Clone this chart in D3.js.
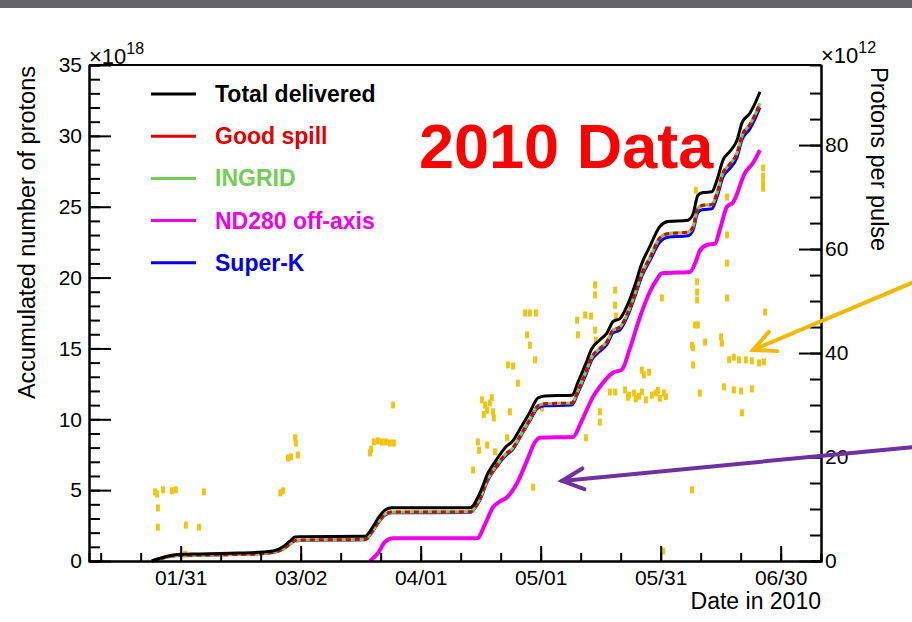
<!DOCTYPE html>
<html>
<head>
<meta charset="utf-8" />
<title>Accumulated protons 2010</title>
<style>
  body { margin: 0; background: #fff; }
  text { font-family: "Liberation Sans", Arial, Helvetica, sans-serif; }
</style>
</head>
<body>
<div id="container"></div>
<script src="https://cdn.jsdelivr.net/npm/d3@7"></script>
<script>
// day of year 2010 (1 = Jan 1) for the accumulated curves
const potDays = [23.8, 27.1, 30.8, 35.8, 43.3, 49.6, 54.1, 56.6, 58.3, 59.6, 60.8, 77.1, 78.8, 80.3, 82.1, 83.8,
  103.3, 105.8, 107.8, 109.6, 112.1, 114.1, 115.8, 118.3, 120.3, 122.1, 128.8, 130.3, 132.1, 133.8, 135.8,
  137.6, 139.1, 140.8, 142.6, 144.6, 146.3, 148.3, 150.8, 152.8, 157.8, 159.1, 160.3, 161.6, 163.8, 165.1,
  166.6, 168.3, 170.1, 171.3, 173.3, 174.6, 175.8]
// x10^18 protons
const totalDelivered = [0, 0.3, 0.47, 0.5, 0.55, 0.6, 0.7, 1.0, 1.4, 1.7, 1.72, 1.75, 2.3, 3.0, 3.6, 3.75,
  3.75, 4.8, 6.2, 7.0, 8.0, 8.5, 9.3, 10.5, 11.5, 11.65, 11.7, 12.6, 13.8, 15.0, 15.6,
  16.1, 16.9, 17.1, 18.0, 19.5, 21.0, 22.2, 23.6, 23.95, 24.05, 24.5, 25.8, 26.0, 26.05, 26.9,
  28.3, 28.9, 29.7, 30.9, 31.6, 32.3, 33.1]
const goodSpill = [0, 0.25, 0.4, 0.42, 0.45, 0.5, 0.6, 0.85, 1.2, 1.45, 1.48, 1.52, 2.05, 2.7, 3.3, 3.45,
  3.47, 4.4, 5.8, 6.6, 7.5, 8.0, 8.8, 10.0, 10.95, 11.1, 11.15, 12.0, 13.2, 14.4, 15.0,
  15.5, 16.3, 16.5, 17.4, 18.9, 20.3, 21.4, 22.8, 23.1, 23.2, 23.6, 24.9, 25.1, 25.15, 26.0,
  27.4, 28.0, 28.8, 30.0, 30.8, 31.5, 32.3]
const ingrid = [0, 0.25, 0.4, 0.42, 0.45, 0.5, 0.6, 0.85, 1.2, 1.45, 1.48, 1.52, 2.05, 2.7, 3.3, 3.45,
  3.47, 4.4, 5.8, 6.6, 7.5, 8.0, 8.8, 10.0, 10.95, 11.1, 11.15, 12.0, 13.2, 14.4, 15.0,
  15.5, 16.3, 16.5, 17.4, 18.9, 20.3, 21.4, 22.8, 23.1, 23.2, 23.6, 24.9, 25.1, 25.15, 26.0,
  27.4, 28.0, 28.8, 30.0, 30.8, 31.5, 32.3]
const superK = [0, 0.25, 0.4, 0.42, 0.45, 0.5, 0.6, 0.85, 1.2, 1.42, 1.45, 1.5, 2.0, 2.65, 3.25, 3.4,
  3.42, 4.3, 5.7, 6.5, 7.4, 7.9, 8.7, 9.9, 10.8, 10.95, 11.0, 11.85, 13.0, 14.2, 14.8,
  15.3, 16.1, 16.3, 17.2, 18.7, 20.1, 21.2, 22.5, 22.85, 22.95, 23.35, 24.6, 24.8, 24.85, 25.7,
  27.1, 27.7, 28.5, 29.7, 30.5, 31.2, 32.0]

const nd280Days = [78.3, 80.3, 82.1, 84.1, 105.1, 107.1, 109.1, 110.8, 112.6, 115.1, 117.6, 119.6, 120.8,
  129.1, 130.8, 132.1, 134.1, 135.8, 139.1, 141.3, 143.3, 145.8, 148.3, 150.1, 151.3, 158.3, 159.6,
  160.8, 162.6, 164.6, 165.8, 167.6, 169.1, 172.1, 174.1, 175.8]
const nd280 = [0, 0.55, 1.35, 1.6, 1.6, 2.6, 3.8, 4.2, 4.5, 5.5, 7.1, 8.4, 8.7,
  8.75, 9.6, 10.4, 11.6, 12.3, 13.3, 13.5, 15.0, 17.2, 19.0, 19.9, 20.3, 20.4, 21.0,
  21.9, 22.3, 22.4, 23.4, 25.0, 25.3, 27.4, 28.1, 29.0]

// protons per pulse (x10^12), right axis
const ppDays = [24.6, 25.1, 25.3, 25.3, 26.6, 28.8, 29.8, 32.3, 35.6, 36.8, 32.1,
  55.9, 56.6, 57.8, 58.6, 59.6, 59.8, 60.3,
  78.3, 78.6, 79.3, 80.3, 81.3, 82.3, 83.3, 84.3, 84.1,
  104.1, 105.3, 105.6, 106.3, 107.1, 107.6, 108.3, 109.1, 109.3, 107.6, 109.6, 110.1, 106.8, 108.8,
  112.6, 113.3, 112.8, 114.1, 115.3, 117.1, 118.3, 119.8, 117.6, 118.3, 119.6, 119.1, 121.3,
  130.1, 130.3, 132.1, 133.6, 132.3, 134.6, 134.6, 134.6, 134.8, 135.8, 135.8, 138.3, 139.6,
  139.6, 139.6, 139.8,
  142.1, 143.1, 144.3, 145.6, 146.3, 146.8, 148.1, 148.8, 149.8, 150.8, 151.8, 146.3, 151.3,
  142.8, 144.8, 147.3, 150.3, 152.3,
  158.8, 159.1, 159.1, 160.1, 160.1, 160.1, 159.6, 160.3, 160.8, 159.8, 162.1, 166.1, 166.3,
  166.8, 167.6, 167.6, 167.6, 167.6, 168.1, 169.3, 170.6, 172.3, 173.8, 175.6, 176.8,
  169.3, 171.1, 173.8, 171.3, 158.8, 177.1, 176.6, 176.6, 176.6, 176.6, 151.6]
const ppValues = [13.3, 12.9, 10.2, 6.5, 13.7, 13.5, 13.7, 6.9, 6.5, 13.3, 1.3,
  13.1, 13.5, 19.8, 20.0, 23.7, 22.7, 20.4,
  20.8, 21.5, 22.9, 23.1, 22.9, 22.9, 22.7, 22.7, 30.0,
  17.5, 22.9, 21.3, 31.0, 30.0, 29.0, 30.4, 28.7, 27.5, 22.3, 21.0, 18.5, 28.2, 31.4,
  23.7, 28.7, 37.7, 37.5, 34.2, 47.7, 47.7, 47.7, 43.5, 41.5, 38.7, 14.2, 29.4,
  46.3, 43.5, 47.3, 47.1, 23.7, 53.1, 51.2, 44.4, 42.5, 28.7, 26.7, 32.5, 32.5,
  52.1, 49.2, 47.1,
  32.9, 31.9, 32.3, 31.7, 32.5, 35.8, 36.3, 31.9, 32.3, 31.3, 32.3, 36.7, 50.6,
  31.5, 31.2, 31.0, 32.8, 31.6,
  41.5, 41.0, 37.7, 53.7, 51.7, 50.2, 45.4, 45.4, 32.3, 71.3, 42.1, 43.1, 41.9,
  33.5, 62.7, 57.3, 50.6, 70.0, 38.7, 39.2, 38.7, 38.7, 38.5, 38.1, 38.3,
  32.9, 32.7, 33.1, 28.5, 13.7, 47.9, 75.6, 74.0, 72.7, 71.7, 1.9]

const majorTickDays = [31, 61, 91, 121, 151, 181]
const xTickLabels = ['01/31', '03/02', '04/01', '05/01', '05/31', '06/30']
const legendNames = ['Total delivered', 'Good spill', 'INGRID', 'ND280 off-axis', 'Super-K']
const legendColors = ['#000000', '#e30000', '#74cd54', '#ee00ee', '#0000ee']

const toDate = d => new Date(Date.UTC(2010, 0, 1) + (d - 1) * 864e5)

const W = 912, H = 622
const mLeft = 89, mRight = 821, mTop = 65, mBottom = 561
const font = '"Liberation Sans", Arial, Helvetica, sans-serif'

const svg = d3.select('#container').append('svg').attr('width', W).attr('height', H)
svg.append('rect').attr('width', W).attr('height', H).attr('fill', '#fff')
svg.append('rect').attr('width', W).attr('height', 8).attr('fill', '#67636b')

const x = d3.scaleUtc().domain([toDate(8.08), toDate(191.08)]).range([mLeft, mRight])
const yL = d3.scaleLinear().domain([0, 35]).range([mBottom, mTop])
const yR = d3.scaleLinear().domain([0, 95.4]).range([mBottom, mTop])

// protons per pulse markers
const pp = ppDays.map((d, i) => ({ d: toDate(d), v: ppValues[i] }))
svg.append('g').selectAll('rect').data(pp).join('rect')
  .attr('x', p => x(p.d) - 2).attr('y', p => yR(p.v) - 3.5)
  .attr('width', 4).attr('height', 7).attr('fill', '#f2c40f')

// curves
const line = (days, vals) => d3.line().curve(d3.curveMonotoneX)
  .x((_, i) => x(toDate(days[i]))).y(v => yL(v))(vals)

const plot = svg.append('g')
plot.append('path').attr('d', line(potDays, superK)).attr('fill', 'none').attr('stroke', '#0000ee').attr('stroke-width', 3)
plot.append('path').attr('d', line(potDays, ingrid)).attr('fill', 'none').attr('stroke', '#74cd54').attr('stroke-width', 3.2)
plot.append('path').attr('d', line(potDays, goodSpill)).attr('fill', 'none').attr('stroke', '#e30000').attr('stroke-width', 3)
  .attr('stroke-dasharray', '5,4')
plot.append('path').attr('d', line(nd280Days, nd280)).attr('fill', 'none').attr('stroke', '#ee00ee').attr('stroke-width', 4)
plot.append('path').attr('d', line(potDays, totalDelivered)).attr('fill', 'none').attr('stroke', '#000').attr('stroke-width', 3)

// axes
const styleAxis = g => {
  g.attr('font-size', 21).attr('font-family', font)
  g.selectAll('path, line').attr('stroke', '#000').attr('stroke-width', 2)
  g.selectAll('text').attr('fill', '#000')
}

svg.append('g').attr('transform', `translate(${mLeft},0)`)
  .call(d3.axisLeft(yL).tickValues(d3.range(0, 36)).tickSize(-11).tickFormat('')).call(styleAxis)
svg.append('g').attr('transform', `translate(${mLeft},0)`)
  .call(d3.axisLeft(yL).tickValues(d3.range(0, 36, 5)).tickSizeInner(-22).tickSizeOuter(0).tickPadding(7)).call(styleAxis)

svg.append('g').attr('transform', `translate(${mRight},0)`)
  .call(d3.axisRight(yR).tickValues(d3.range(0, 95, 5)).tickSize(-11).tickFormat('')).call(styleAxis)
svg.append('g').attr('transform', `translate(${mRight},0)`)
  .call(d3.axisRight(yR).tickValues([0, 20, 40, 60, 80]).tickSizeInner(-22).tickSizeOuter(0).tickPadding(4)).call(styleAxis)

const minorDays = d3.range(11, 192, 10)
svg.append('g').attr('transform', `translate(0,${mBottom})`)
  .call(d3.axisBottom(x).tickValues(minorDays.map(toDate)).tickSize(-8).tickFormat('')).call(styleAxis)
svg.append('g').attr('transform', `translate(0,${mBottom})`)
  .call(d3.axisBottom(x).tickValues(majorTickDays.map(toDate)).tickSizeInner(-15).tickSizeOuter(0).tickPadding(9)
    .tickFormat((_, i) => xTickLabels[i])).call(styleAxis)

svg.append('line').attr('x1', mLeft).attr('x2', mRight).attr('y1', mTop).attr('y2', mTop)
  .attr('stroke', '#000').attr('stroke-width', 2)

// titles
svg.append('text').attr('transform', `translate(35,${mTop + 1}) rotate(-90)`).attr('text-anchor', 'end')
  .attr('font-size', 23.5).text('Accumulated number of protons')
svg.append('text').attr('transform', `translate(871,${mTop + 2}) rotate(90)`).attr('text-anchor', 'start')
  .attr('font-size', 23.5).text('Protons per pulse')
svg.append('text').attr('x', mRight).attr('y', 609).attr('text-anchor', 'end')
  .attr('font-size', 23).text('Date in 2010')

const exp = (x0, y0, p) => {
  const t = svg.append('text').attr('x', x0).attr('y', y0).attr('font-size', 22)
  t.append('tspan').text('×10')
  t.append('tspan').attr('dy', -10).attr('font-size', 16).text(p)
}
exp(89, 64, '18')
exp(821, 63, '12')

// legend
const lg = svg.append('g')
legendNames.forEach((n, i) => {
  const cy = 94 + i * 42.2
  lg.append('line').attr('x1', 151).attr('x2', 196).attr('y1', cy).attr('y2', cy)
    .attr('stroke', legendColors[i]).attr('stroke-width', 3)
  lg.append('text').attr('x', 215).attr('y', cy + 8).attr('font-size', 23).attr('font-weight', 'bold')
    .attr('fill', legendColors[i]).text(n)
})

svg.append('text').attr('x', 419).attr('y', 168).attr('font-size', 63).attr('font-weight', 'bold')
  .attr('fill', '#ff0000').text('2010 Data')

// annotation arrows (date, protons per pulse)
const arrow = (from, tip, color) => {
  const x1 = x(toDate(from[0])), y1 = yR(from[1]), x2 = x(toDate(tip[0])), y2 = yR(tip[1])
  const a = Math.atan2(y1 - y2, x1 - x2), L = 24, s = 0.45
  const g = svg.append('g').attr('stroke', color).attr('stroke-width', 4).attr('fill', 'none')
    .attr('stroke-linecap', 'round')
  g.append('line').attr('x1', x1).attr('y1', y1).attr('x2', x2).attr('y2', y2)
  g.append('path').attr('d', `M${x2 + L * Math.cos(a + s)},${y2 + L * Math.sin(a + s)}L${x2},${y2}L${x2 + L * Math.cos(a - s)},${y2 + L * Math.sin(a - s)}`)
}
arrow([213.8, 53.5], [174.1, 40.6], '#f5b800')
arrow([213.8, 21.9], [126.3, 15.4], '#7030a0')
</script>
</body>
</html>
